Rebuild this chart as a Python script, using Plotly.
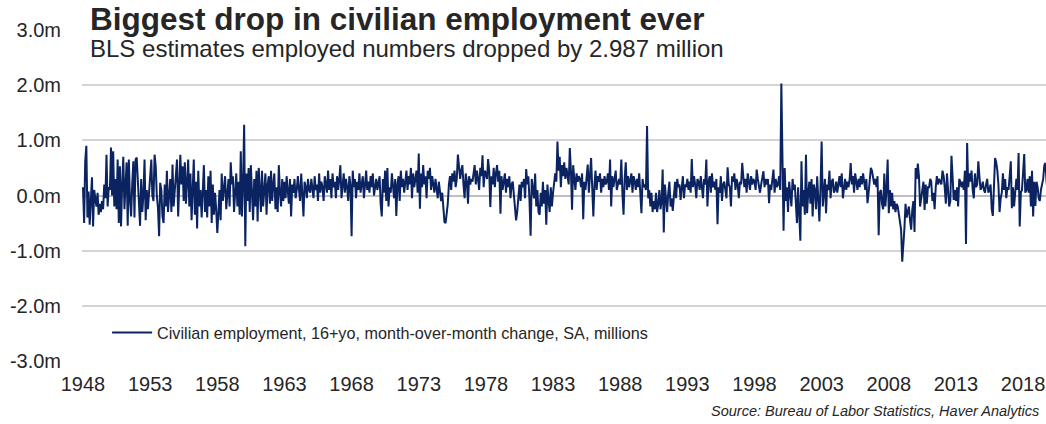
import plotly.graph_objects as go
import pandas as pd

# Month-over-month change in civilian employment (millions), Jan..Dec per year
y1948 = [0.15, -0.50, 0.62, 0.90, -0.40, 0.07, -0.53, -0.10, 0.33, -0.56, 0.10, -0.05]
y1949 = [-0.20, 0.05, -0.35, -0.15, -0.30, -0.10, -0.25, 0.20, -0.05, 0.74, -0.20, 0.15]
y1950 = [0.10, 0.87, 0.00, 0.80, -0.20, 0.30, -0.25, 0.65, -0.50, 0.53, -0.56, 0.20]
y1951 = [0.70, -0.25, 0.30, 0.60, -0.55, 0.65, -0.07, -0.38, 0.20, 0.62, -0.40, 0.65]
y1952 = [0.69, 0.23, -0.05, -0.55, 0.30, -0.30, 0.00, 0.65, -0.45, 0.10, -0.25, 0.05]
y1953 = [0.17, 0.65, 0.00, -0.10, 0.74, 0.53, 0.00, -0.22, -0.74, 0.23, 0.10, -0.38]
y1954 = [-0.50, 0.20, -0.20, 0.45, -0.30, 0.10, 0.30, -0.30, 0.56, -0.20, 0.10, 0.35]
y1955 = [0.65, -0.38, 0.40, 0.74, 0.20, 0.53, -0.10, 0.60, -0.15, 0.30, 0.65, -0.20]
y1956 = [0.40, -0.45, 0.30, 0.65, -0.35, 0.25, -0.60, 0.45, -0.20, 0.10, -0.40, 0.20]
y1957 = [0.55, -0.30, 0.10, -0.40, 0.35, -0.20, 0.45, -0.50, 0.20, -0.35, 0.05, -0.25]
y1958 = [-0.68, -0.30, 0.10, -0.45, 0.40, -0.10, 0.20, 0.35, -0.25, 0.15, 0.30, -0.20]
y1959 = [0.60, 0.20, 0.35, -0.30, 0.10, 0.40, -0.20, 0.25, -0.35, 0.80, -0.38, 0.20]
y1960 = [1.28, -0.92, 0.40, -0.10, 0.50, -0.30, 0.55, 0.10, -0.45, 0.30, -0.20, 0.45]
y1961 = [-0.47, 0.50, 0.20, -0.30, 0.45, -0.20, 0.10, 0.40, -0.35, 0.20, 0.35, -0.15]
y1962 = [0.45, -0.10, 0.20, 0.40, -0.25, 0.15, -0.30, 0.55, 0.05, -0.20, 0.30, -0.10]
y1963 = [0.25, -0.05, 0.35, 0.10, -0.15, 0.30, -0.38, 0.20, 0.05, 0.30, -0.05, 0.10]
y1964 = [0.35, 0.10, -0.10, 0.40, 0.05, -0.38, 0.25, 0.15, -0.05, 0.30, 0.10, 0.05]
y1965 = [0.30, 0.15, -0.05, 0.35, 0.10, 0.20, -0.10, 0.40, 0.05, 0.25, 0.15, -0.10]
y1966 = [0.35, 0.20, 0.05, 0.45, 0.10, 0.30, -0.05, 0.40, 0.15, 0.25, -0.05, 0.35]
y1967 = [0.10, 0.30, 0.55, -0.05, 0.20, 0.40, 0.05, 0.30, 0.15, -0.10, 0.35, 0.20]
y1968 = [-0.74, 0.45, 0.15, 0.30, -0.05, 0.25, 0.10, 0.40, 0.05, 0.20, 0.35, -0.05]
y1969 = [0.30, 0.45, 0.10, 0.25, 0.05, 0.35, 0.15, 0.40, 0.00, 0.20, 0.30, 0.10]
y1970 = [0.20, 0.35, -0.15, -0.38, 0.30, 0.05, 0.45, -0.10, 0.50, -0.20, 0.15, 0.05]
y1971 = [0.40, 0.10, -0.05, 0.30, -0.37, 0.20, 0.35, -0.10, 0.45, 0.15, 0.30, 0.05]
y1972 = [0.30, 0.45, 0.10, 0.35, 0.20, 0.50, -0.05, 0.40, 0.15, 0.30, 0.45, 0.05]
y1973 = [0.76, -0.24, 0.40, 0.15, 0.55, 0.20, 0.35, -0.05, 0.45, 0.30, 0.50, 0.10]
y1974 = [0.35, 0.20, 0.05, 0.30, 0.15, -0.05, 0.25, 0.10, -0.10, 0.05, -0.30, -0.48]
y1975 = [-0.50, -0.35, -0.15, 0.20, 0.35, 0.10, 0.40, 0.25, 0.45, 0.15, 0.30, 0.74]
y1976 = [0.50, 0.30, 0.45, 0.55, 0.20, -0.05, 0.40, 0.25, -0.15, 0.35, 0.20, 0.30]
y1977 = [0.25, 0.40, 0.55, 0.20, 0.45, 0.30, 0.10, 0.50, 0.35, 0.73, 0.15, 0.45]
y1978 = [0.40, 0.30, 0.66, 0.45, -0.21, 0.35, 0.20, 0.50, 0.15, 0.40, 0.55, 0.25]
y1979 = [0.45, -0.33, 0.35, 0.10, 0.25, 0.40, 0.05, 0.30, 0.15, 0.35, -0.05, 0.20]
y1980 = [0.25, -0.05, -0.20, -0.45, -0.30, 0.05, 0.20, -0.10, 0.25, 0.15, 0.30, -0.05]
y1981 = [0.48, 0.20, 0.35, -0.10, -0.73, 0.30, 0.15, -0.05, 0.40, -0.20, 0.10, -0.30]
y1982 = [-0.35, 0.05, -0.20, 0.25, -0.15, 0.10, -0.53, 0.20, -0.10, -0.30, 0.15, -0.20]
y1983 = [0.05, 0.20, 0.40, 0.25, 0.98, 0.45, 0.70, 0.15, 0.55, 0.35, 0.60, 0.30]
y1984 = [0.50, 0.35, 0.20, 0.86, 0.45, -0.26, 0.55, 0.30, 0.10, 0.40, 0.25, 0.35]
y1985 = [0.30, 0.15, 0.40, -0.43, 0.25, 0.10, 0.35, 0.56, 0.05, 0.30, 0.68, 0.15]
y1986 = [-0.38, 0.20, 0.45, 0.10, 0.35, 0.25, 0.40, 0.05, 0.30, 0.15, 0.35, 0.20]
y1987 = [0.25, 0.40, 0.10, 0.65, -0.20, 0.35, 0.15, 0.30, 0.45, 0.10, 0.25, 0.30]
y1988 = [0.20, 0.65, 0.05, -0.35, 0.30, 0.60, 0.10, 0.35, 0.15, 0.25, 0.40, 0.05]
y1989 = [0.35, 0.25, 0.10, 0.30, 0.15, 0.40, 0.05, -0.32, 0.30, 0.15, 0.20, 0.10]
y1990 = [1.26, -0.05, 0.10, -0.20, 0.05, -0.30, -0.10, -0.25, 0.05, -0.30, -0.15, 0.10]
y1991 = [-0.25, -0.10, 0.47, -0.67, 0.20, -0.15, -0.30, 0.05, 0.25, -0.20, -0.05, -0.28]
y1992 = [0.10, 0.25, -0.05, 0.30, 0.15, 0.20, -0.08, 0.10, 0.35, -0.05, 0.20, 0.15]
y1993 = [0.30, 0.10, 0.25, 0.05, 0.66, 0.15, 0.35, 0.20, -0.05, 0.30, 0.25, 0.10]
y1994 = [0.35, 0.15, -0.05, 0.30, 0.20, 0.65, -0.20, 0.25, 0.35, 0.05, 0.40, 0.15]
y1995 = [0.25, 0.10, 0.30, -0.52, 0.15, 0.05, 0.35, -0.10, 0.20, 0.25, 0.10, -0.05]
y1996 = [0.51, 0.20, 0.15, -0.20, 0.35, 0.25, 0.40, 0.10, 0.30, 0.20, -0.05, 0.25]
y1997 = [0.20, 0.59, 0.35, 0.15, 0.30, 0.05, 0.40, 0.25, 0.10, 0.35, 0.20, 0.30]
y1998 = [0.25, 0.10, 0.47, 0.30, 0.15, 0.05, 0.20, 0.35, 0.44, 0.15, 0.30, 0.20]
y1999 = [0.30, -0.14, 0.20, 0.10, 0.25, 0.47, 0.05, 0.30, 0.15, 0.20, 0.35, 0.10]
y2000 = [2.03, 0.20, -0.64, 0.50, -0.10, 0.15, -0.30, 0.25, 0.05, -0.20, 0.30, 0.10]
y2001 = [0.20, -0.10, -0.50, 0.15, -0.25, -0.82, 0.62, -0.20, 0.10, -0.35, 0.74, -0.32]
y2002 = [0.05, 0.25, -0.15, 0.30, -0.38, 0.20, 0.10, -0.25, 0.35, 0.00, -0.47, 0.15]
y2003 = [0.98, -0.20, 0.15, 0.30, -0.32, 0.20, 0.10, 0.45, -0.05, 0.25, 0.30, 0.05]
y2004 = [0.10, 0.25, 0.05, 0.20, 0.35, 0.15, 0.40, -0.05, 0.20, 0.30, 0.10, 0.25]
y2005 = [0.15, 0.30, 0.59, 0.20, 0.35, 0.05, 0.40, 0.25, 0.10, 0.30, 0.15, 0.35]
y2006 = [0.20, 0.40, 0.25, 0.10, 0.30, -0.14, 0.05, 0.25, 0.50, 0.45, 0.30, 0.20]
y2007 = [0.30, 0.15, 0.35, -0.72, 0.05, 0.10, -0.15, -0.25, 0.40, -0.20, 0.10, 0.65]
y2008 = [-0.32, 0.10, -0.20, 0.05, -0.25, -0.10, -0.30, -0.15, -0.20, -0.35, -0.55, -0.62]
y2009 = [-1.20, -0.93, -0.60, -0.15, -0.40, -0.30, -0.20, -0.45, -0.62, -0.26, -0.10, -0.66]
y2010 = [0.50, 0.30, 0.58, 0.35, -0.20, -0.05, 0.10, 0.25, -0.26, 0.20, -0.15, 0.15]
y2011 = [0.15, 0.30, 0.25, -0.10, 0.05, -0.25, 0.15, 0.35, 0.20, 0.30, 0.25, 0.20]
y2012 = [0.45, 0.35, 0.15, -0.15, 0.40, 0.10, -0.20, -0.10, 0.72, 0.35, -0.08, 0.10]
y2013 = [-0.10, 0.15, -0.20, 0.30, 0.25, 0.15, 0.25, 0.10, 0.45, -0.88, 0.95, 0.15]
y2014 = [0.40, 0.25, 0.45, 0.10, -0.05, 0.40, 0.15, 0.20, 0.62, 0.35, 0.10, 0.15]
y2015 = [0.25, 0.10, 0.05, 0.20, 0.30, 0.05, 0.10, 0.20, -0.25, -0.37, 0.30, 0.68]
y2016 = [0.60, 0.45, 0.20, -0.30, -0.05, 0.05, 0.40, 0.10, 0.30, -0.05, 0.15, 0.10]
y2017 = [0.35, 0.62, -0.23, 0.15, -0.20, 0.05, 0.30, 0.10, 0.77, -0.56, 0.05, 0.10]
y2018 = [0.40, 0.75, 0.05, 0.10, 0.30, 0.05, 0.35, -0.20, 0.45, -0.38, 0.25, -0.19]
y2019 = [0.25, 0.15, -0.05, -0.10, 0.10, 0.20, 0.30, 0.55, 0.59, 0.25, 0.08, 0.27]
y2020 = [-0.09, 0.05]

years_data = [
    y1948, y1949, y1950, y1951, y1952, y1953, y1954, y1955, y1956, y1957,
    y1958, y1959, y1960, y1961, y1962, y1963, y1964, y1965, y1966, y1967,
    y1968, y1969, y1970, y1971, y1972, y1973, y1974, y1975, y1976, y1977,
    y1978, y1979, y1980, y1981, y1982, y1983, y1984, y1985, y1986, y1987,
    y1988, y1989, y1990, y1991, y1992, y1993, y1994, y1995, y1996, y1997,
    y1998, y1999, y2000, y2001, y2002, y2003, y2004, y2005, y2006, y2007,
    y2008, y2009, y2010, y2011, y2012, y2013, y2014, y2015, y2016, y2017,
    y2018, y2019, y2020,
]
values = [v for yr in years_data for v in yr]
dates = pd.date_range("1948-01-01", periods=len(values), freq="MS")

x_tick_years = ["1948", "1953", "1958", "1963", "1968", "1973", "1978", "1983",
                "1988", "1993", "1998", "2003", "2008", "2013", "2018"]
y_tick_vals = [-3, -2, -1, 0, 1, 2, 3]
y_tick_text = ["-3.0m", "-2.0m", "-1.0m", "0.0m", "1.0m", "2.0m", "3.0m"]

series_name = "Civilian employment, 16+yo, month-over-month change, SA, millions"
title_text = "Biggest drop in civilian employment ever"
subtitle_text = "BLS estimates employed numbers dropped by 2.987 million"
source_text = "Source: Bureau of Labor Statistics, Haver Analytics"

LINE = "#0b2461"
TXT = "#262626"
FONT = "Liberation Sans, Arial, sans-serif"

fig = go.Figure()
fig.add_trace(go.Scatter(
    x=dates, y=values, mode="lines", name=series_name,
    line=dict(color=LINE, width=2),
))

fig.update_layout(
    width=1046, height=424,
    margin=dict(l=82, r=0, t=29, b=62),
    paper_bgcolor="white", plot_bgcolor="white",
    font=dict(family=FONT, size=20, color=TXT),
    showlegend=True,
    legend=dict(
        x=0.026, y=0.087, xanchor="left", yanchor="middle",
        bgcolor="rgba(0,0,0,0)", borderwidth=0, itemwidth=40,
        font=dict(family=FONT, size=16.2, color=TXT),
    ),
    xaxis=dict(
        range=["1947-12-05", "2019-09-16"],
        tickvals=[f"{y}-01-01" for y in x_tick_years],
        ticktext=x_tick_years,
        showgrid=False, showline=False, zeroline=False, ticks="",
        ticklabelstandoff=8,
        tickfont=dict(size=20, color=TXT),
    ),
    yaxis=dict(
        range=[-3.018, 3.018],
        tickvals=y_tick_vals, ticktext=y_tick_text,
        showgrid=True, gridcolor="#d4d4d4", gridwidth=1.5,
        zeroline=True, zerolinecolor="#bfbfbf", zerolinewidth=1.5,
        showline=False, ticks="", ticklabelstandoff=20,
        tickfont=dict(size=20, color=TXT),
    ),
    annotations=[
        dict(text=f"<b>{title_text}</b>", xref="paper", yref="paper",
             x=0.006, y=1.029, xanchor="left", yanchor="middle", showarrow=False,
             font=dict(family=FONT, size=31.5, color=TXT)),
        dict(text=subtitle_text, xref="paper", yref="paper",
             x=0.006, y=0.9405, xanchor="left", yanchor="middle", showarrow=False,
             font=dict(family=FONT, size=24, color=TXT)),
        dict(text=f"<i>{source_text}</i>", xref="paper", yref="paper",
             x=0.9945, y=-0.147, xanchor="right", yanchor="middle", showarrow=False,
             font=dict(family=FONT, size=14.5, color=TXT)),
    ],
)

fig.write_html("out.html")
